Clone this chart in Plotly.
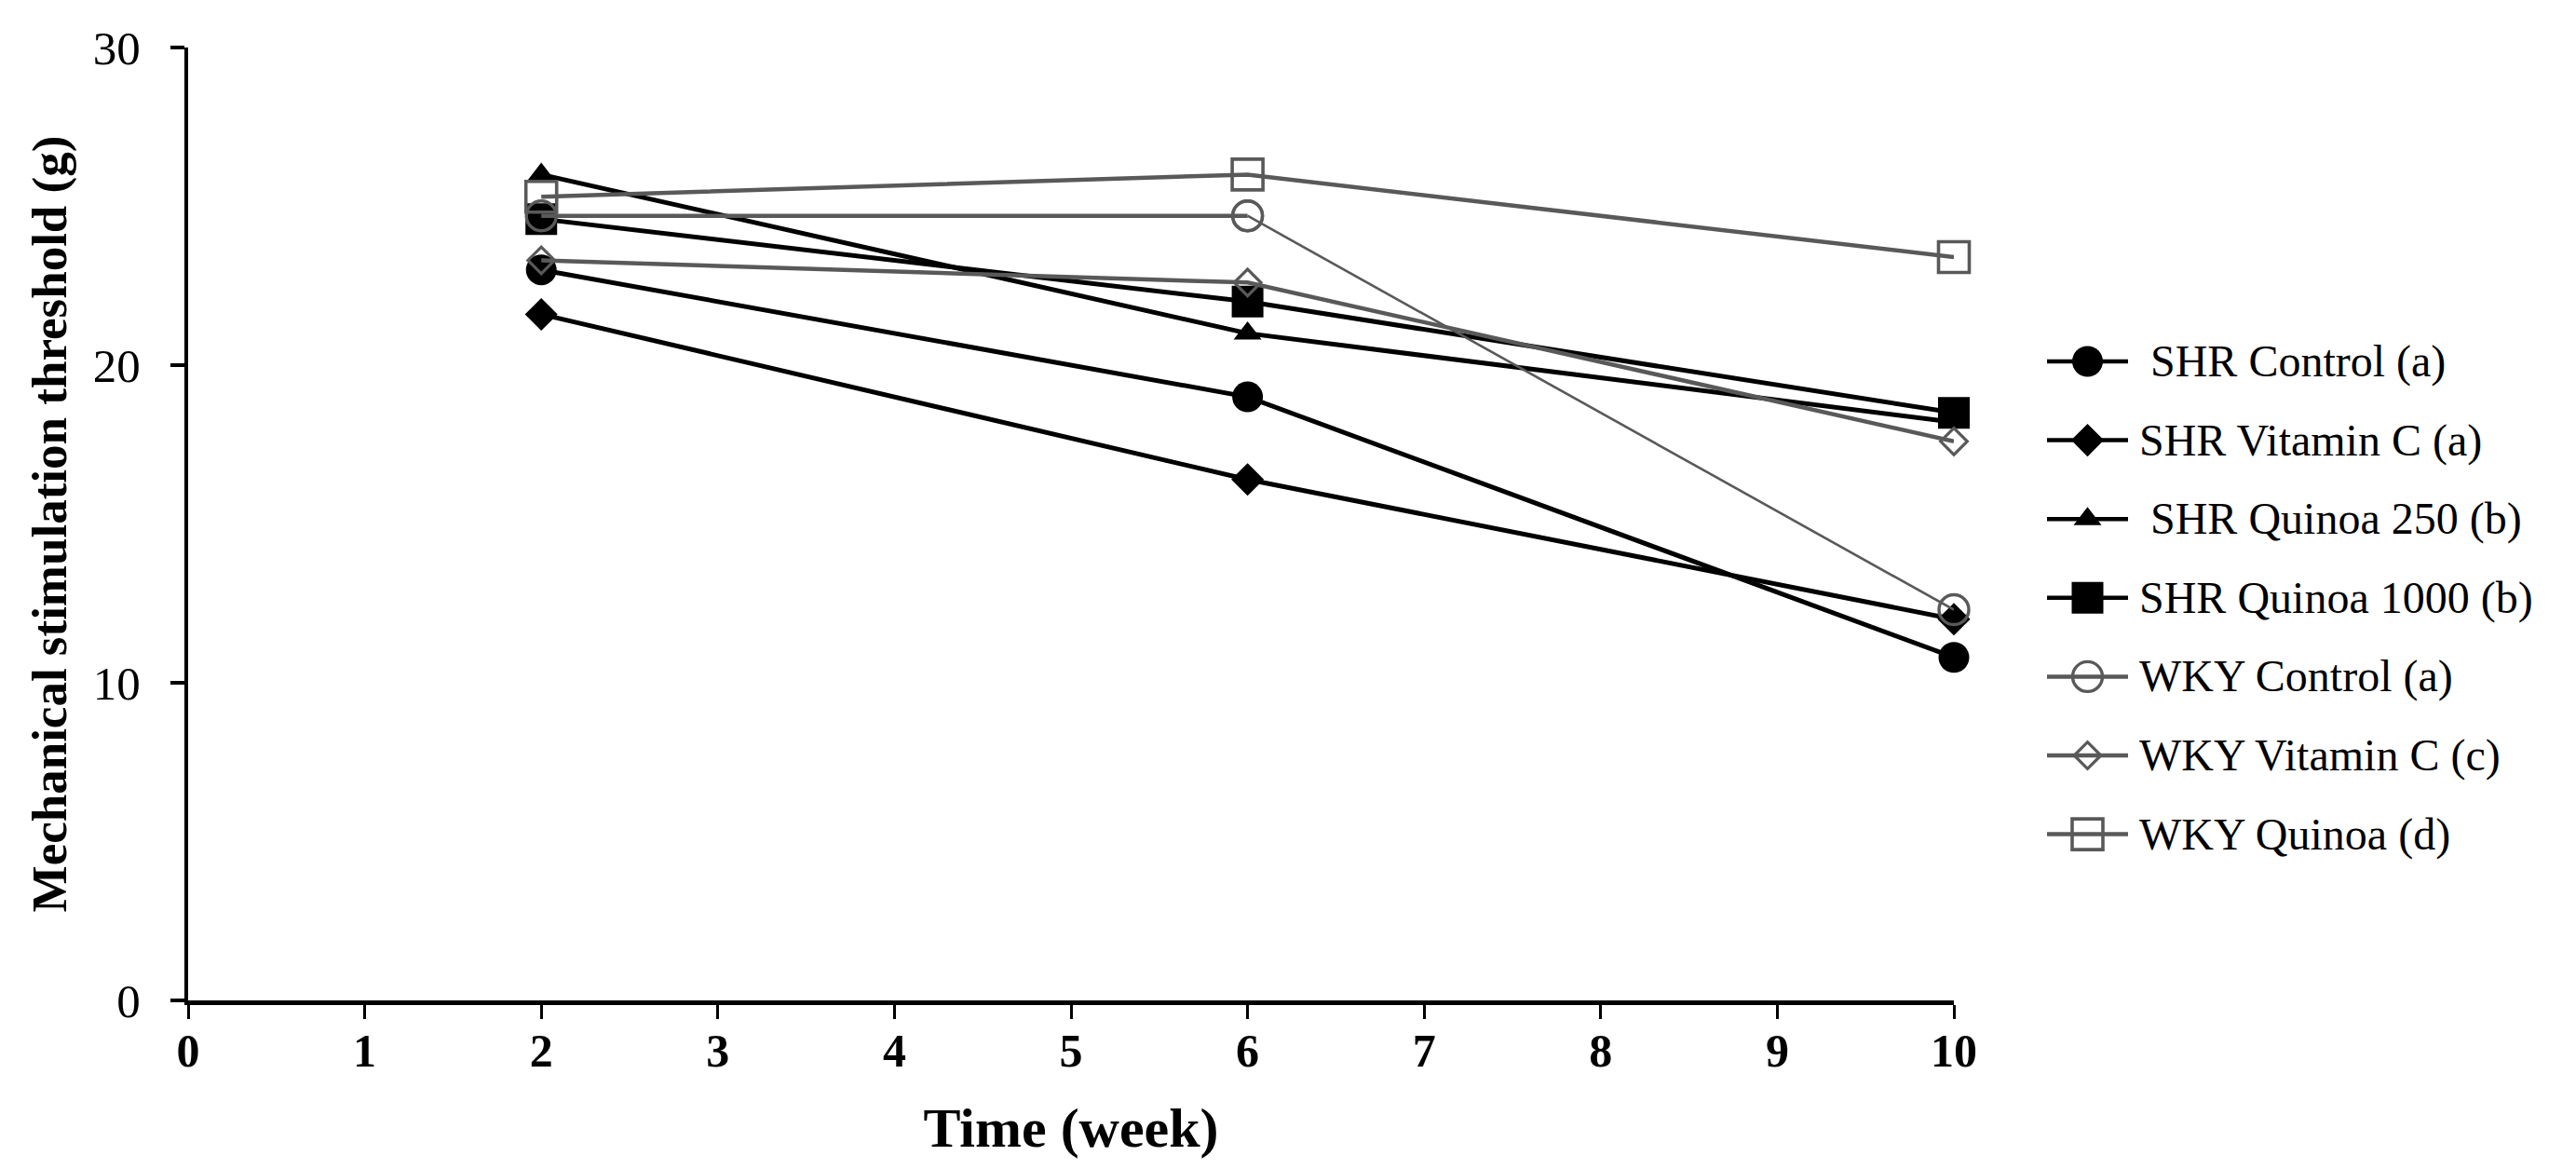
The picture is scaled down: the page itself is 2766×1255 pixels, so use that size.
import plotly.graph_objects as go

# ---- data ----
weeks = [2, 6, 10]
shr_control = [23.0, 19.0, 10.8]
shr_vitc = [21.6, 16.4, 12.0]
shr_q250 = [26.0, 21.0, 18.2]
shr_q1000 = [24.6, 22.0, 18.5]
wky_control = [24.7, 24.7, 12.3]
wky_vitc = [23.3, 22.6, 17.6]
wky_quinoa = [25.3, 26.0, 23.4]

series_names = [
    "\u00a0SHR Control (a)",
    "SHR Vitamin C (a)",
    "\u00a0SHR Quinoa 250 (b)",
    "SHR Quinoa 1000 (b)",
    "WKY Control (a)",
    "WKY Vitamin C (c)",
    "WKY Quinoa (d)",
]
series_values = [shr_control, shr_vitc, shr_q250, shr_q1000, wky_control, wky_vitc, wky_quinoa]

x_ticks = list(range(0, 11))
y_ticks = [0, 10, 20, 30]

# ---- styles ----
BLACK = "#000000"
GREY = "#595959"
styles = [
    dict(color=BLACK, symbol="circle", size=33, lw=5, mlw=0),
    dict(color=BLACK, symbol="diamond", size=27, lw=5, mlw=0),
    dict(color=BLACK, symbol="triangle-up", size=26, lw=5, mlw=0),
    dict(color=BLACK, symbol="square", size=34, lw=5, mlw=0),
    dict(color=GREY, symbol="circle-open", size=32, lw=4.5, mlw=3.4),
    dict(color=GREY, symbol="diamond-open", size=22, lw=4.5, mlw=3.2),
    dict(color=GREY, symbol="square-open", size=33, lw=4.5, mlw=3.6),
]

W, H = 2766, 1255
X0, X1 = 194, 2090   # plot area pixels
Y0, Y1 = 43, 1066

fig = go.Figure()

for name, vals, st in zip(series_names, series_values, styles):
    marker = dict(color=st["color"], symbol=st["symbol"], size=st["size"],
                  line=dict(color=st["color"], width=st["mlw"]))
    if name.startswith("WKY Control"):
        # thick segment weeks 2-6, thin segment weeks 6-10 (as in the reference)
        fig.add_trace(go.Scatter(x=weeks[:2], y=vals[:2], mode="lines+markers",
                                 line=dict(color=st["color"], width=st["lw"]),
                                 marker=marker, showlegend=False, cliponaxis=False))
        fig.add_trace(go.Scatter(x=weeks[1:], y=vals[1:], mode="lines+markers",
                                 line=dict(color=st["color"], width=2.6),
                                 marker=marker, showlegend=False, cliponaxis=False))
    else:
        fig.add_trace(go.Scatter(x=weeks, y=vals, mode="lines+markers",
                                 line=dict(color=st["color"], width=st["lw"]),
                                 marker=marker, showlegend=False, cliponaxis=False))

# ---- custom legend (pixel coordinate overlay axes) ----
leg_x_line0, leg_x_line1 = 2190, 2277
leg_text_x = 2287
leg_top, leg_step = 380, 84.6
for i, (name, st) in enumerate(zip(series_names, styles)):
    yy = leg_top + i * leg_step
    fig.add_trace(go.Scatter(x=[leg_x_line0, leg_x_line1], y=[yy, yy], mode="lines",
                             line=dict(color=st["color"], width=4.5),
                             xaxis="x2", yaxis="y2", showlegend=False, hoverinfo="skip"))
    fig.add_trace(go.Scatter(x=[(leg_x_line0 + leg_x_line1) / 2], y=[yy], mode="markers",
                             marker=dict(color=st["color"], symbol=st["symbol"], size=st["size"],
                                         line=dict(color=st["color"], width=st["mlw"])),
                             xaxis="x2", yaxis="y2", showlegend=False, hoverinfo="skip",
                             cliponaxis=False))
    fig.add_annotation(x=leg_text_x, y=yy, xref="x2", yref="y2", text=name,
                       showarrow=False, xanchor="left", yanchor="middle",
                       font=dict(family="Liberation Serif", size=48, color="#000000"))

fig.update_layout(
    width=W, height=H,
    margin=dict(l=0, r=0, t=0, b=0),
    paper_bgcolor="white", plot_bgcolor="rgba(0,0,0,0)",
    showlegend=False,
    xaxis=dict(
        domain=[X0 / W, X1 / W], range=[0, 10],
        tickvals=x_ticks, ticktext=[str(v) for v in x_ticks],
        showgrid=False, zeroline=False,
        showline=True, linecolor="#000000", linewidth=5,
        ticks="outside", ticklen=15, tickwidth=2.5, tickcolor="#000000",
        tickfont=dict(family="Liberation Serif", size=50, color="#000000", weight="bold"),
        ticklabelstandoff=-9,
        title=dict(text="Time (week)", standoff=35,
                   font=dict(family="Liberation Serif", size=60, color="#000000", weight="bold")),
        automargin=False, anchor="y",
    ),
    yaxis=dict(
        domain=[1 - Y1 / H, 1 - Y0 / H], range=[0, 30],
        tickvals=y_ticks, ticktext=[str(v) for v in y_ticks],
        showgrid=False, zeroline=False,
        showline=True, linecolor="#000000", linewidth=4,
        ticks="outside", ticklen=15, tickwidth=3.5, tickcolor="#000000",
        tickfont=dict(family="Liberation Serif", size=51, color="#000000"),
        ticklabelstandoff=22,
        title=dict(text="Mechanical stimulation threshold (g)", standoff=12,
                   font=dict(family="Liberation Serif", size=53, color="#000000", weight="bold")),
        automargin=False, anchor="x",
    ),
    xaxis2=dict(domain=[0, 1], range=[0, W], visible=False, anchor="y2", fixedrange=True),
    yaxis2=dict(domain=[0, 1], range=[H, 0], visible=False, anchor="x2", fixedrange=True),
)

fig.write_html("out.html")
